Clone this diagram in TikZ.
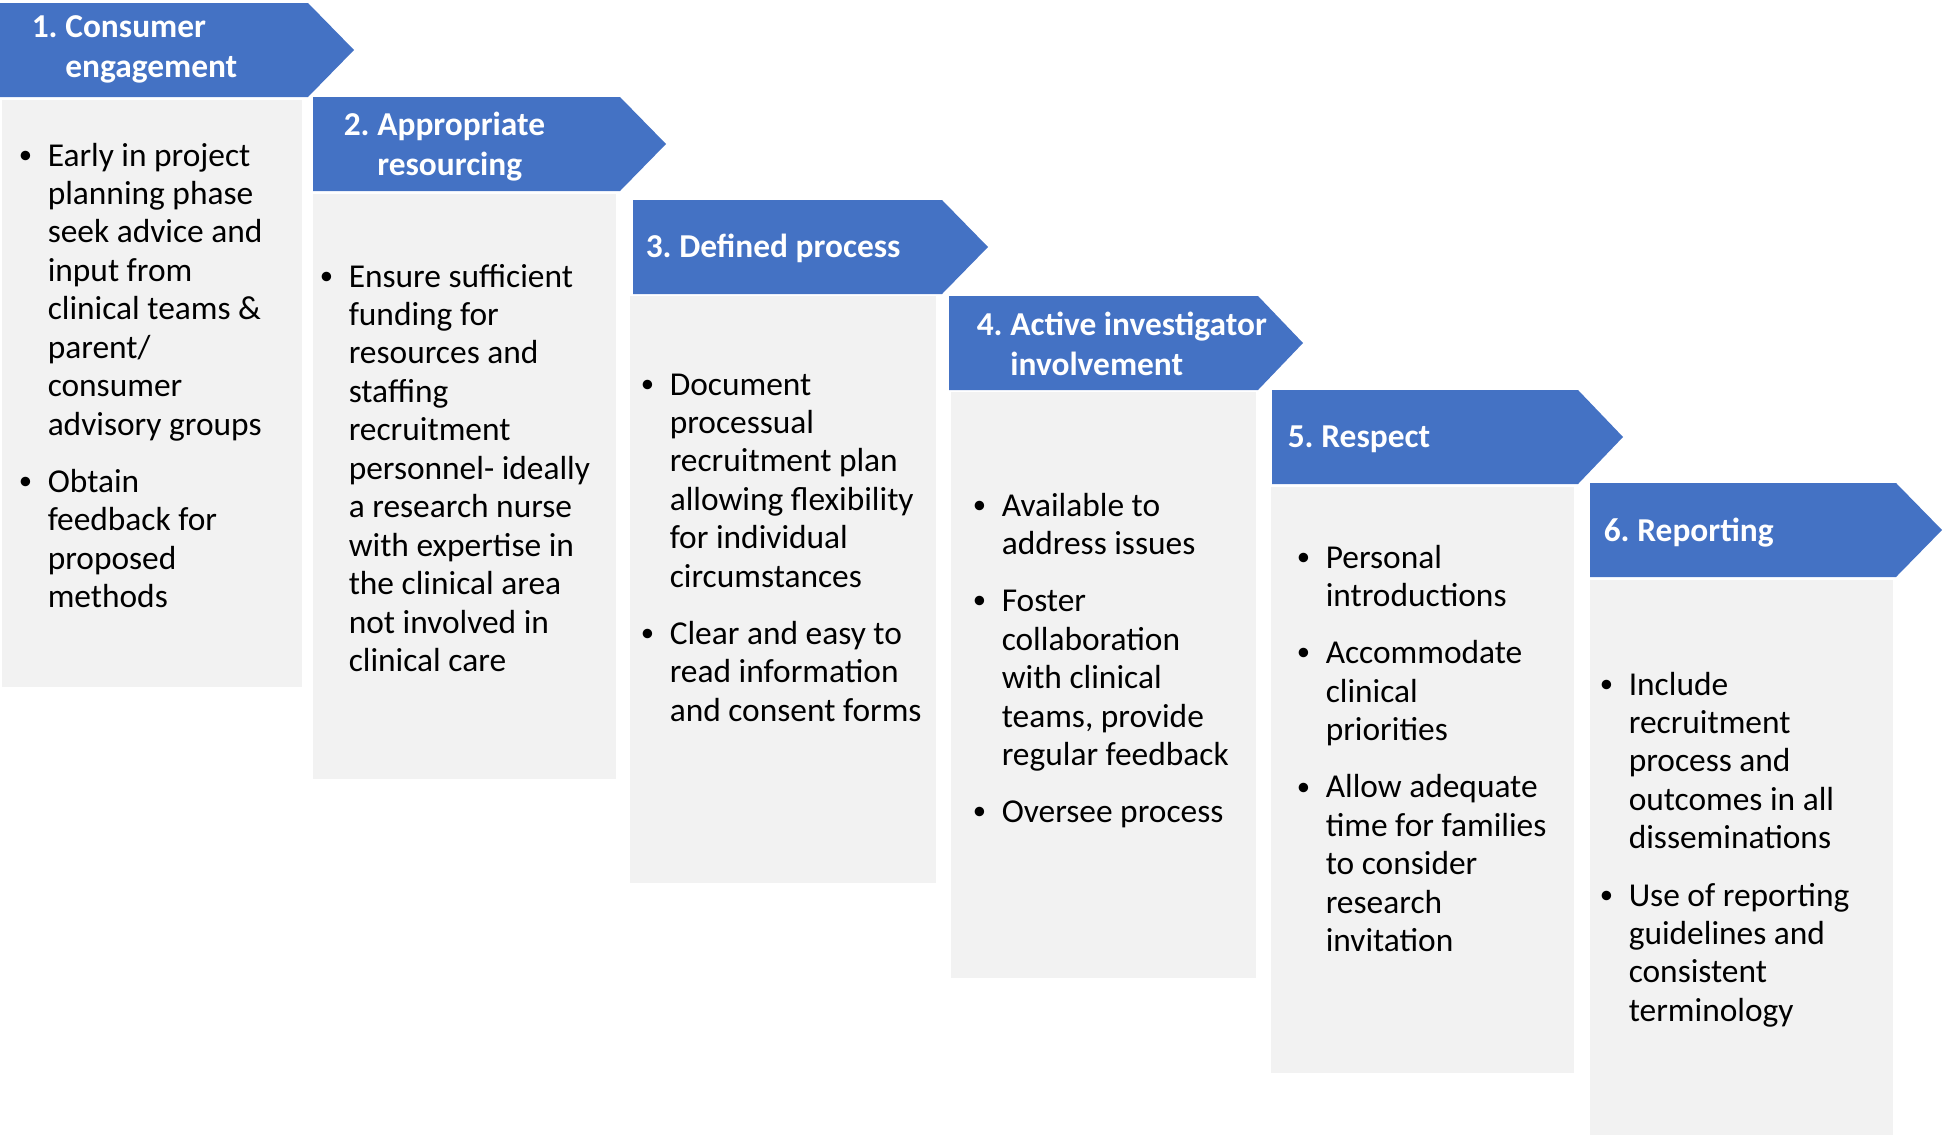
\documentclass[tikz,border=0pt]{standalone}
\usepackage{graphicx}
\usepackage{fontspec}
\setmainfont{Carlito}
\definecolor{hdblue}{RGB}{68,114,196}
\definecolor{boxgray}{RGB}{242,242,242}
\newcommand{\bl}{\makebox[14.5pt][l]{\raisebox{1.3pt}{\scalebox{0.8}{\textbullet}}}}
\newcommand{\hn}[1]{\makebox[16.8pt][l]{#1}}
\tikzset{every picture/.style={line width=0.75pt}}
\tikzset{
  hdtext/.style={anchor=base west,inner sep=0pt,text=white,font=\fontsize{16.7pt}{20pt}\selectfont\bfseries},
  bodytext/.style={anchor=base west,inner sep=0pt,text=black,font=\fontsize{16.7pt}{19.24pt}\selectfont},
  hdshape/.style={draw opacity=0,fill=hdblue,fill opacity=1},
  boxshape/.style={draw opacity=0,fill=boxgray,fill opacity=1}
}

\begin{document}
\begin{tikzpicture}[x=0.5pt,y=0.5pt,yscale=-1,xscale=1]
\useasboundingbox (0,0) rectangle (1946,1135);

%Shape: Rectangle
\draw [boxshape] (2,100) rectangle (302,687) ;
%Shape: Rectangle
\draw [boxshape] (313,194) rectangle (616,779) ;
%Shape: Rectangle
\draw [boxshape] (630,296) rectangle (936,883) ;
%Shape: Rectangle
\draw [boxshape] (951,392) rectangle (1256,978) ;
%Shape: Rectangle
\draw [boxshape] (1271,487) rectangle (1574,1073) ;
%Shape: Rectangle
\draw [boxshape] (1590,580) rectangle (1893,1135) ;

%Shape: Pentagon
\draw [hdshape] (0,3) -- (308,3) -- (354,50) -- (308,97) -- (0,97) -- cycle ;
%Shape: Pentagon
\draw [hdshape] (313,97) -- (620,97) -- (666,144) -- (620,191) -- (313,191) -- cycle ;
%Shape: Pentagon
\draw [hdshape] (633,200) -- (942,200) -- (988,247) -- (942,294) -- (633,294) -- cycle ;
%Shape: Pentagon
\draw [hdshape] (949,296) -- (1258,296) -- (1303,343) -- (1258,390) -- (949,390) -- cycle ;
%Shape: Pentagon
\draw [hdshape] (1272,390) -- (1578,390) -- (1623,437) -- (1578,484) -- (1272,484) -- cycle ;
%Shape: Pentagon
\draw [hdshape] (1590,483) -- (1896,483) -- (1942,530) -- (1896,577) -- (1590,577) -- cycle ;

% Text Node
\draw (31,37) node (hd1) [hdtext] {\begin{tabular}[t]{@{}l@{}l@{}}\hn{1.} & Consumer\\ & engagement\end{tabular}};
% Text Node
\draw (343,135) node (hd2) [hdtext] {\begin{tabular}[t]{@{}l@{}l@{}}\hn{2.} & Appropriate\\ & resourcing\end{tabular}};
% Text Node
\draw (645,257) node (hd3) [hdtext] {\hn{3.}Defined process};
% Text Node
\draw (976,335) node (hd4) [hdtext] {\begin{tabular}[t]{@{}l@{}l@{}}\hn{4.} & Active investigator\\ & involvement\end{tabular}};
% Text Node
\draw (1287,447) node (hd5) [hdtext] {\hn{5.}Respect};
% Text Node
\draw (1603,541) node (hd6) [hdtext] {\hn{6.}Reporting};

% Text Node
\draw (18,166) node (txt1) [bodytext] {\begin{tabular}[t]{@{}l@{}l@{}}
\bl & Early in project\\
 & planning phase\\
 & seek advice and\\
 & input from\\
 & clinical teams \&\\
 & parent/\\
 & consumer\\
 & advisory groups\\[9.3pt]
\bl & Obtain\\
 & feedback for\\
 & proposed\\
 & methods
\end{tabular}};
% Text Node
\draw (319,287) node (txt2) [bodytext] {\begin{tabular}[t]{@{}l@{}l@{}}
\bl & Ensure sufficient\\
 & funding for\\
 & resources and\\
 & staffing\\
 & recruitment\\
 & personnel- ideally\\
 & a research nurse\\
 & with expertise in\\
 & the clinical area\\
 & not involved in\\
 & clinical care
\end{tabular}};
% Text Node
\draw (640,395) node (txt3) [bodytext] {\begin{tabular}[t]{@{}l@{}l@{}}
\bl & Document\\
 & processual\\
 & recruitment plan\\
 & allowing flexibility\\
 & for individual\\
 & circumstances\\[9.3pt]
\bl & Clear and easy to\\
 & read information\\
 & and consent forms
\end{tabular}};
% Text Node
\draw (972,516) node (txt4) [bodytext] {\begin{tabular}[t]{@{}l@{}l@{}}
\bl & Available to\\
 & address issues\\[9.3pt]
\bl & Foster\\
 & collaboration\\
 & with clinical\\
 & teams, provide\\
 & regular feedback\\[9.3pt]
\bl & Oversee process
\end{tabular}};
% Text Node
\draw (1296,568) node (txt5) [bodytext] {\begin{tabular}[t]{@{}l@{}l@{}}
\bl & Personal\\
 & introductions\\[9.3pt]
\bl & Accommodate\\
 & clinical\\
 & priorities\\[9.3pt]
\bl & Allow adequate\\
 & time for families\\
 & to consider\\
 & research\\
 & invitation
\end{tabular}};
% Text Node
\draw (1599,695) node (txt6) [bodytext] {\begin{tabular}[t]{@{}l@{}l@{}}
\bl & Include\\
 & recruitment\\
 & process and\\
 & outcomes in all\\
 & disseminations\\[9.3pt]
\bl & Use of reporting\\
 & guidelines and\\
 & consistent\\
 & terminology
\end{tabular}};

\end{tikzpicture}
\end{document}
